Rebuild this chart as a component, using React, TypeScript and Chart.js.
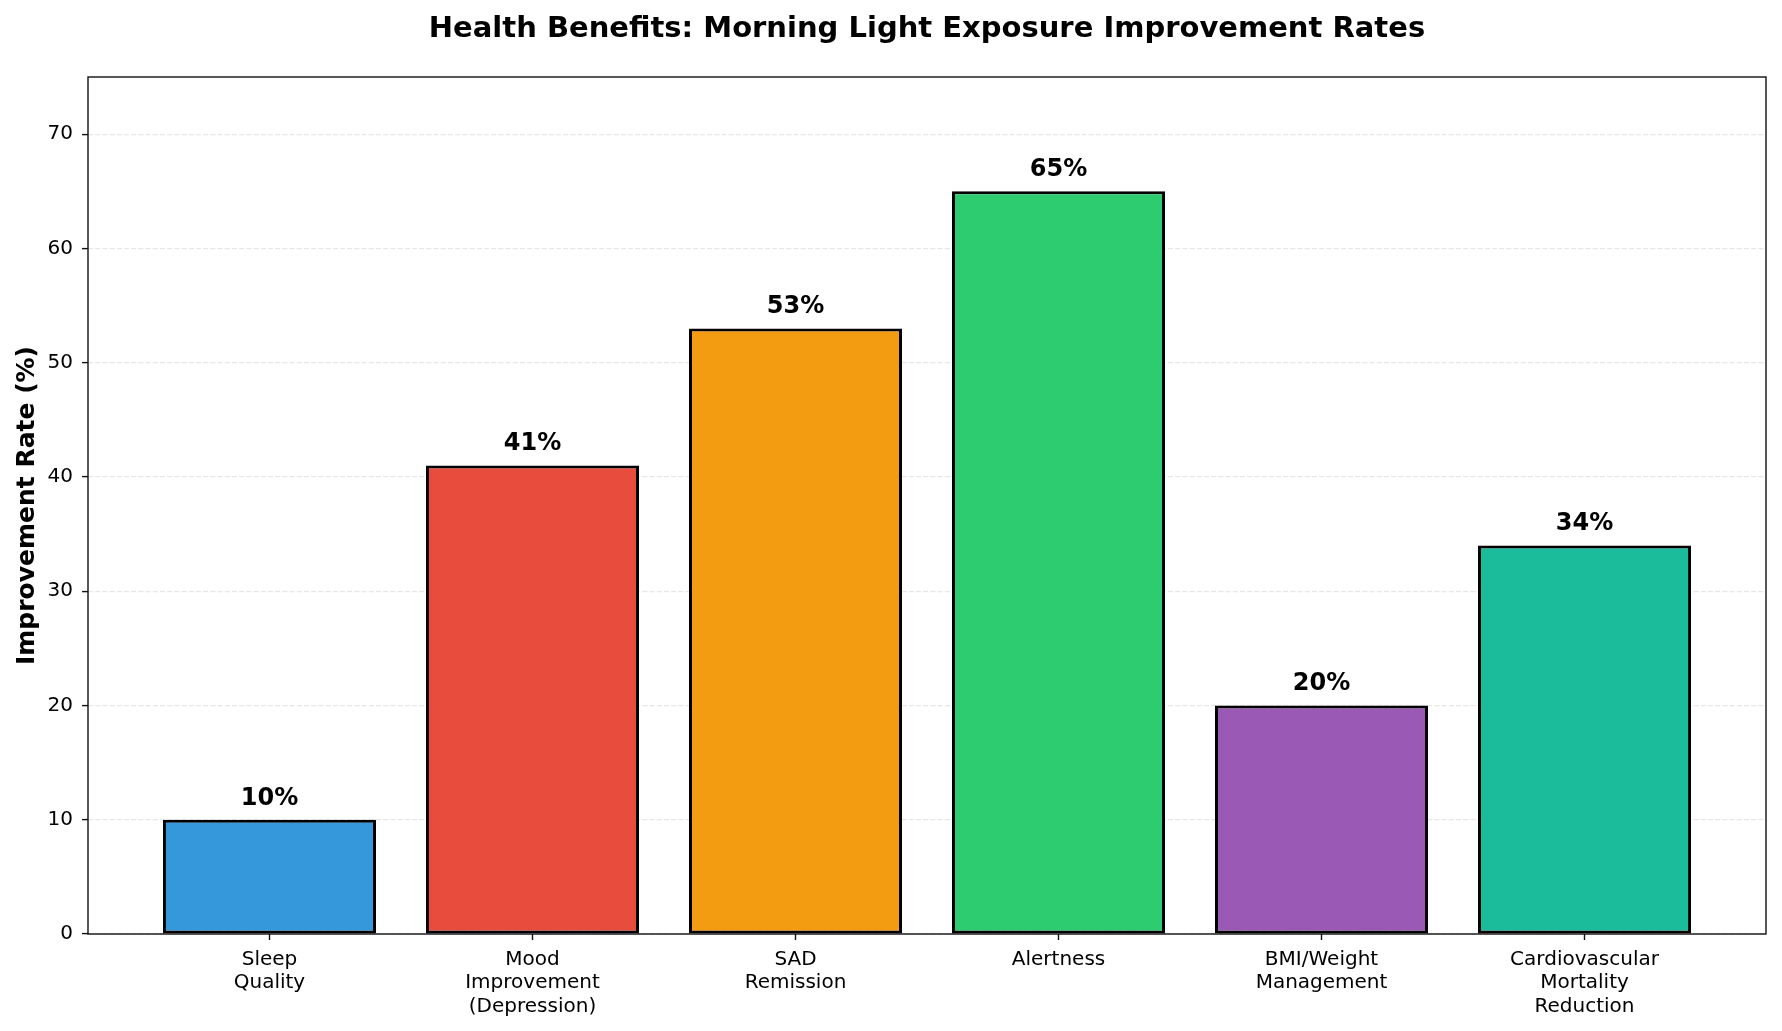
import React, { useEffect, useRef } from "react";
import { Chart, registerables } from "chart.js";

Chart.register(...registerables);

const categories: string[][] = [
  ["Sleep", "Quality"],
  ["Mood", "Improvement", "(Depression)"],
  ["SAD", "Remission"],
  ["Alertness"],
  ["BMI/Weight", "Management"],
  ["Cardiovascular", "Mortality", "Reduction"],
];
const values: number[] = [10, 41, 53, 65, 20, 34];
const barColors: string[] = ["#3498db", "#e74c3c", "#f39c12", "#2ecc71", "#9b59b6", "#1abc9c"];
const yTicks: number[] = [0, 10, 20, 30, 40, 50, 60, 70];
const valueLabels: string[] = values.map((v) => `${v}%`);
const chartTitle = "Health Benefits: Morning Light Exposure Improvement Rates";
const yAxisLabel = "Improvement Rate (%)";

const FONT = "'DejaVu Sans', sans-serif";

const decorPlugin = {
  id: "decor",
  afterDatasetsDraw(chart: any) {
    const { ctx, scales } = chart;
    const xs = scales.x;
    const ys = scales.y;
    ctx.save();
    ctx.fillStyle = "#000";
    ctx.font = `bold 24px ${FONT}`;
    ctx.textAlign = "center";
    ctx.textBaseline = "alphabetic";
    values.forEach((v, i) => {
      const x = xs.getPixelForValue(i);
      const y = ys.getPixelForValue(v + 1) - 3.8;
      ctx.fillText(valueLabels[i], x, y);
    });
    ctx.restore();
  },
  afterDraw(chart: any) {
    const { ctx, chartArea } = chart;
    ctx.save();
    // spines
    ctx.strokeStyle = "#111";
    ctx.lineWidth = 1.4;
    ctx.strokeRect(chartArea.left, chartArea.top, chartArea.right - chartArea.left, chartArea.bottom - chartArea.top);
    // title
    ctx.fillStyle = "#000";
    ctx.font = `bold 29px ${FONT}`;
    ctx.textAlign = "center";
    ctx.textBaseline = "alphabetic";
    ctx.fillText(chartTitle, (chartArea.left + chartArea.right) / 2, 37);
    // y label
    ctx.translate(33.5, (chartArea.top + chartArea.bottom) / 2);
    ctx.rotate(-Math.PI / 2);
    ctx.font = `bold 25px ${FONT}`;
    ctx.fillText(yAxisLabel, 0, 0);
    ctx.restore();
  },
};

export default function App() {
  const canvasRef = useRef<HTMLCanvasElement | null>(null);

  useEffect(() => {
    if (!canvasRef.current) return;
    const chart = new Chart(canvasRef.current, {
      type: "bar",
      data: {
        datasets: [
          {
            data: values.map((v, i) => ({ x: i, y: v })),
            backgroundColor: barColors,
            borderColor: "#000",
            borderWidth: 3,
            borderSkipped: false,
            categoryPercentage: 1,
            barPercentage: 0.81,
          },
        ],
      },
      options: {
        animation: false,
        responsive: false,
        maintainAspectRatio: false,
        devicePixelRatio: 1,
        layout: { padding: { top: 77, right: 16, bottom: 0, left: 0 } },
        plugins: {
          legend: { display: false },
          title: { display: false },
          tooltip: { enabled: false },
        },
        scales: {
          x: {
            type: "linear",
            offset: false,
            min: -0.69,
            max: 5.69,
            afterBuildTicks: (axis: any) => {
              axis.ticks = categories.map((_, i) => ({ value: i }));
            },
            afterFit: (scale: any) => {
              scale.height = 97;
            },
            ticks: {
              autoSkip: false,
              maxRotation: 0,
              minRotation: 0,
              padding: 8,
              color: "#000",
              font: { family: FONT, size: 20, lineHeight: 1.17 },
              callback: (value: any) => categories[Math.round(Number(value))] ?? "",
            },
            grid: {
              offset: false,
              drawOnChartArea: false,
              drawTicks: true,
              tickLength: 6,
              tickColor: "#111",
              tickWidth: 1.4,
            },
            border: { display: false },
          },
          y: {
            min: 0,
            max: 75,
            afterBuildTicks: (axis: any) => {
              axis.ticks = yTicks.map((v) => ({ value: v }));
            },
            afterFit: (scale: any) => {
              scale.width = 88;
            },
            ticks: {
              padding: 9,
              color: "#000",
              font: { family: FONT, size: 20 },
            },
            grid: {
              color: "rgba(176,176,176,0.32)",
              lineWidth: 1.2,
              drawTicks: true,
              tickLength: 6,
              tickColor: "#111",
              tickWidth: 1.4,
            },
            border: { display: false, dash: [5, 2.2] },
          },
        },
      },
      plugins: [decorPlugin],
    } as any);
    return () => chart.destroy();
  }, []);

  return (
    <div style={{ position: "fixed", left: 0, top: 0, width: 1782, height: 1031, background: "#fff" }}>
      <canvas ref={canvasRef} width={1782} height={1031} style={{ width: 1782, height: 1031, display: "block" }} />
    </div>
  );
}
